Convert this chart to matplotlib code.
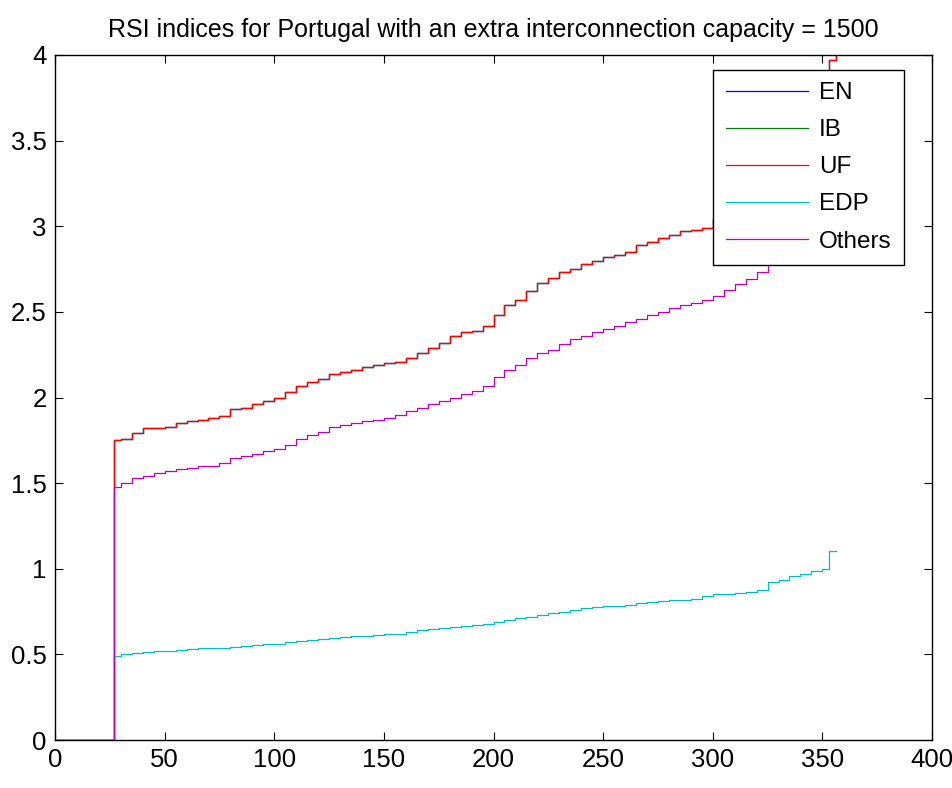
import matplotlib
matplotlib.use("Agg")
import matplotlib.pyplot as plt

plt.rcParams['font.family'] = ['Liberation Sans', 'DejaVu Sans']

# x positions (hour index) at which values were read
x_vals = [0, 26, 27, 30, 35, 40, 45, 50, 55, 60, 65, 70, 75, 80, 85, 90, 95,
          100, 105, 110, 115, 120, 125, 130, 135, 140, 145, 150, 155, 160,
          165, 170, 175, 180, 185, 190, 195, 200, 205, 210, 215, 220, 225,
          230, 235, 240, 245, 250, 255, 260, 265, 270, 275, 280, 285, 290,
          295, 300, 305, 310, 315, 320, 325, 330, 335, 340, 345, 350, 353, 356]

uf_vals = [0, 0, 1.75, 1.76, 1.79, 1.82, 1.82, 1.83, 1.85, 1.865, 1.87, 1.88,
           1.89, 1.93, 1.94, 1.96, 1.98, 2.00, 2.03, 2.07, 2.09, 2.11, 2.14,
           2.15, 2.16, 2.18, 2.19, 2.20, 2.21, 2.23, 2.26, 2.29, 2.32, 2.36,
           2.38, 2.39, 2.42, 2.48, 2.54, 2.57, 2.62, 2.67, 2.70, 2.73, 2.75,
           2.78, 2.80, 2.82, 2.83, 2.85, 2.89, 2.91, 2.93, 2.95, 2.97, 2.98,
           2.99, 3.04, 3.08, 3.12, 3.17, 3.24, 3.32, 3.40, 3.50, 3.60, 3.72,
           3.85, 3.97, 4.10]
en_vals = list(uf_vals)
ib_vals = list(uf_vals)

others_vals = [0, 0, 1.48, 1.50, 1.53, 1.54, 1.56, 1.57, 1.58, 1.59, 1.60,
               1.60, 1.62, 1.645, 1.66, 1.67, 1.69, 1.70, 1.72, 1.76, 1.78,
               1.80, 1.83, 1.84, 1.85, 1.86, 1.87, 1.88, 1.90, 1.92, 1.94,
               1.96, 1.98, 2.00, 2.02, 2.04, 2.07, 2.12, 2.16, 2.19, 2.23,
               2.26, 2.28, 2.31, 2.34, 2.36, 2.38, 2.40, 2.42, 2.44, 2.46,
               2.48, 2.50, 2.52, 2.54, 2.55, 2.57, 2.59, 2.63, 2.66, 2.69,
               2.73, 2.82, 2.90, 2.98, 3.05, 3.12, 3.20, 3.30, 3.40]

edp_vals = [0, 0, 0.49, 0.50, 0.51, 0.515, 0.52, 0.52, 0.525, 0.53, 0.535,
            0.54, 0.54, 0.545, 0.55, 0.555, 0.56, 0.56, 0.57, 0.58, 0.585,
            0.59, 0.595, 0.60, 0.605, 0.61, 0.615, 0.62, 0.62, 0.63, 0.64,
            0.65, 0.655, 0.66, 0.665, 0.67, 0.68, 0.69, 0.70, 0.71, 0.72,
            0.73, 0.74, 0.75, 0.76, 0.77, 0.775, 0.78, 0.785, 0.79, 0.80,
            0.805, 0.81, 0.815, 0.82, 0.825, 0.84, 0.85, 0.855, 0.86, 0.865,
            0.875, 0.92, 0.935, 0.955, 0.97, 0.985, 1.00, 1.105, 1.105]

series_names = ['EN', 'IB', 'UF', 'EDP', 'Others']
series_colors = ['#0000ff', '#008000', '#ff0000', '#00bfbf', '#bf00bf']
series_data = [en_vals, ib_vals, uf_vals, edp_vals, others_vals]

x_ticks = [0, 50, 100, 150, 200, 250, 300, 350, 400]
y_ticks = [0, 0.5, 1, 1.5, 2, 2.5, 3, 3.5, 4]
y_tick_labels = ['0', '0.5', '1', '1.5', '2', '2.5', '3', '3.5', '4']

fig = plt.figure(figsize=(9.52, 7.88), dpi=100)
ax = fig.add_axes([55 / 952, 48 / 788, 877 / 952, 685 / 788])

for name, col, vals in zip(series_names, series_colors, series_data):
    ax.plot(x_vals, vals, color=col, lw=0.9, drawstyle='steps-post', label=name)

ax.set_xlim(0, 400)
ax.set_ylim(0, 4)
ax.set_xticks(x_ticks)
ax.set_yticks(y_ticks)
ax.set_yticklabels(y_tick_labels)
ax.tick_params(direction='in', top=True, right=True, length=6, width=0.8,
               labelsize=18.5, pad=6)
for s in ax.spines.values():
    s.set_linewidth(1.0)

ax.set_title('RSI indices for Portugal with an extra interconnection capacity = 1500',
             fontsize=18, pad=13)

leg = ax.legend(loc='upper right', bbox_to_anchor=(904 / 952, 1 - 70 / 788),
                bbox_transform=fig.transFigure, borderaxespad=0,
                fontsize=17.5, fancybox=False, framealpha=1, edgecolor='black',
                handlelength=3.4, handletextpad=0.45, labelspacing=0.62,
                borderpad=0.5)
leg.get_frame().set_linewidth(1.0)

fig.savefig('out.png', dpi=100)
